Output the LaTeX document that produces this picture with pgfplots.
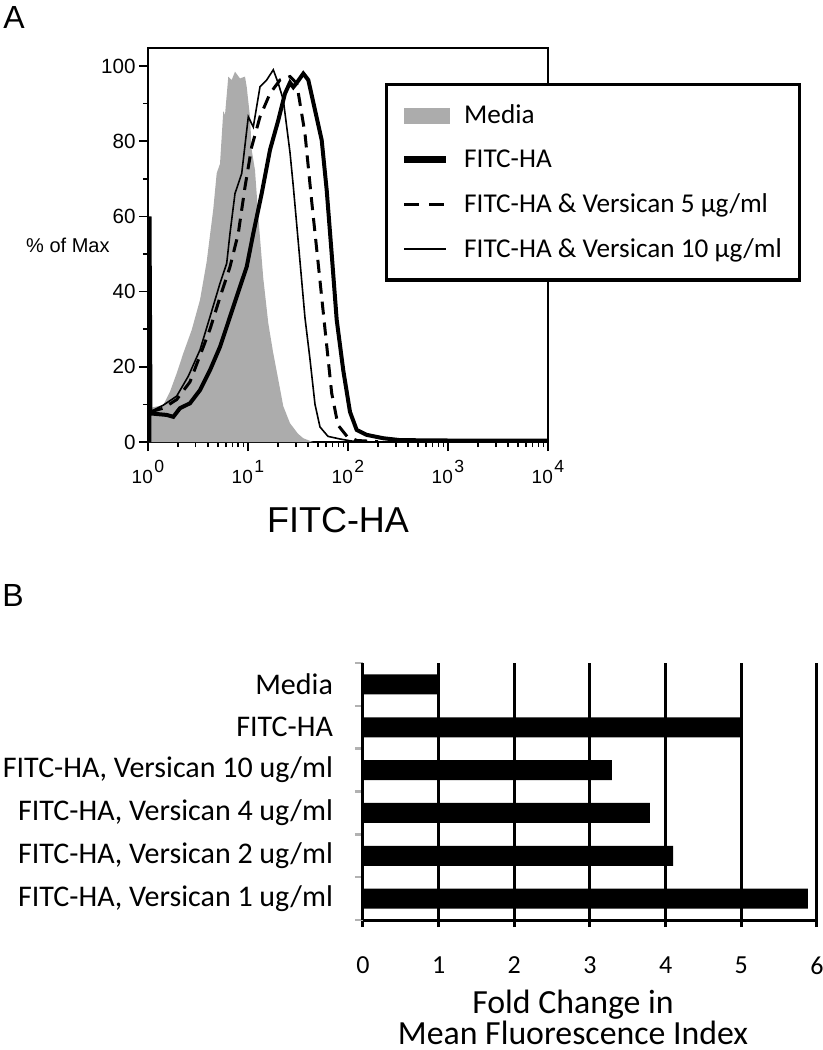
\documentclass[border=0pt]{standalone}
\usepackage{fontspec}
\setmainfont{Liberation Sans}
\newfontfamily\calibri{Carlito}
\usepackage{pgfplots}
\pgfplotsset{compat=1.18}

% decade tick label, superscript sits above the base digits
\newcommand\dec[1]{{\fontsize{9.5}{9.5}\selectfont 10}\kern0.8pt\raisebox{5.6pt}{\fontsize{8.8}{8.8}\selectfont #1}}

\begin{document}
\begin{tikzpicture}
\useasboundingbox (0,0) rectangle (411.5pt,-525pt);
\node[font=\fontsize{16}{16}\selectfont] at (7pt,-8.5pt) {A};
\node[font=\fontsize{16}{16}\selectfont] at (6.5pt,-297.5pt) {B};

% ---- A: histogram, x in decades (10^0 ... 10^4)
\begin{axis}[
  at={(74pt,-221pt)}, anchor=south west,
  scale only axis, width=200pt, height=197pt,
  xmin=0, xmax=4, ymin=0, ymax=104.8,
  axis line style={line width=0.8pt},
  xtick={0,1,2,3,4},
  xticklabels={\dec{0},\dec{1},\dec{2},\dec{3},\dec{4}},
  minor xtick={0.301,0.477,0.602,0.699,0.778,0.845,0.903,0.954,
    1.301,1.477,1.602,1.699,1.778,1.845,1.903,1.954,
    2.301,2.477,2.602,2.699,2.778,2.845,2.903,2.954,
    3.301,3.477,3.602,3.699,3.778,3.845,3.903,3.954},
  ytick={0,20,40,60,80,100},
  minor ytick={10,30,50,70,90},
  tick align=outside, tick pos=left,
  major tick length=4.5pt, minor tick length=2.5pt,
  tick style={black, line width=0.8pt},
  ticklabel style={font=\fontsize{10.3}{10.3}\selectfont},
  /pgf/number format/assume math mode=true,
  yticklabel style={inner xsep=1.5pt},
  xticklabel style={anchor=north, yshift=-1pt},
  ylabel={\% of Max},
  every axis y label/.style={at={(axis description cs:-0.095,0.5)}, anchor=east,
    inner sep=0pt, font=\fontsize{10}{10}\selectfont},
  xlabel={FITC-HA},
  every axis x label/.style={at={(axis description cs:0.475,0)}, anchor=center,
    yshift=-39pt, font=\fontsize{18}{18}\selectfont},
  legend style={at={(axis description cs:0.5925,0.911)}, anchor=north west,
    draw=black, line width=1.7pt, font=\calibri\fontsize{13.6}{13.6}\selectfont,
    inner xsep=7pt, inner ysep=8pt, row sep=7.5pt, cells={anchor=west},
    /tikz/every odd column/.append style={column sep=5pt}},
  legend cell align=left,
]
\addplot[fill=gray!65, draw=none,
  legend image code/.code={\fill[gray!65] (0pt,-4pt) rectangle (23pt,4pt);}]
  coordinates {
  (0.005,9.0) (0.153,9.8) (0.22,13.4) (0.29,18.5) (0.353,23.6) (0.437,29.8) (0.52,37.8)
  (0.587,48) (0.653,62) (0.687,71.5) (0.72,74) (0.753,88) (0.77,87) (0.803,97.2)
  (0.837,96.3) (0.87,98.5) (0.92,96.7) (0.97,97.2) (0.987,94.5) (1.02,86.5)
  (1.037,77.7) (1.07,72.3) (1.103,59.9) (1.153,43.5) (1.203,31.6) (1.25,24)
  (1.30,17) (1.353,9.5) (1.42,5.0) (1.50,2.2) (1.553,1.0) (1.62,0.3) (1.65,0)
  } \closedcycle;
\addlegendentry{Media}

\addplot[black, line width=2pt,
  legend image code/.code={\draw[line width=3.5pt] (0pt,0pt) -- (21pt,0pt);}]
  coordinates {
  (0.015,0) (0.015,60) (0.025,7.6) (0.187,7.2) (0.253,6.7) (0.32,9.0) (0.42,10.3)
  (0.52,13.8) (0.62,19.1) (0.72,25.3) (0.82,33.3) (0.92,41.3) (0.987,46.6)
  (1.053,55.5) (1.137,66.1) (1.22,77.7) (1.303,85.6) (1.37,92.7) (1.42,95.6)
  (1.453,94.4) (1.50,96) (1.553,98.0) (1.603,96.3) (1.67,88.3) (1.737,80.3)
  (1.787,67) (1.837,50) (1.887,32.5) (1.953,19) (2.02,8.0) (2.087,3.2)
  (2.187,1.9) (2.353,1.0) (2.52,0.5) (3,0.4) (4,0.4)
  };
\addlegendentry{FITC-HA}

\addplot[black, line width=1.5pt, dash pattern=on 6.5pt off 4pt,
  legend image code/.code={\draw[line width=1.5pt, dash pattern=on 7.5pt off 5pt] (0pt,0pt) -- (21pt,0pt);}]
  coordinates {
  (0.02,8) (0.153,9) (0.287,11.3) (0.42,16) (0.52,23) (0.62,30) (0.72,38.5)
  (0.82,46.6) (0.903,55.5) (0.97,67.8) (1.037,78.5) (1.12,86.5) (1.22,92.7)
  (1.32,96.3) (1.42,97.2) (1.487,95.4) (1.57,82) (1.637,64) (1.70,48)
  (1.77,30) (1.837,13) (1.90,4.5) (1.99,1.5) (2.09,0.4) (2.3,0.1)
  };
\addlegendentry{FITC-HA \& Versican 5 µg/ml}

\addplot[black, line width=0.8pt,
  legend image code/.code={\draw[line width=0.8pt] (0pt,0pt) -- (21pt,0pt);}]
  coordinates {
  (0.02,8) (0.153,9.8) (0.287,12.2) (0.403,17.5) (0.52,24.5) (0.62,33.3)
  (0.72,42.2) (0.787,47.5) (0.82,55.5) (0.87,66.1) (0.937,71.4) (1.003,86.5)
  (1.053,83.8) (1.12,94.5) (1.187,96.3) (1.253,99) (1.303,95.4) (1.353,91)
  (1.42,77) (1.453,68) (1.49,57) (1.52,48) (1.57,33) (1.62,22) (1.67,10)
  (1.72,4) (1.80,1.5) (1.92,0.8) (2.05,0.2) (2.2,0.1)
  };
\addlegendentry{FITC-HA \& Versican 10 µg/ml}
\end{axis}

% ---- B: fold change bars, Media at the top
\begin{axis}[
  at={(181.5pt,-460pt)}, anchor=south west,
  scale only axis, width=227pt, height=128.5pt,
  xbar, bar width=10pt,
  xmin=0, xmax=6, ymin=-0.5, ymax=5.5,
  axis x line=bottom, axis y line=left,
  axis line style={-, line width=1.5pt},
  xtick={0,...,6},
  xmajorgrids, major grid style={black, line width=1.5pt},
  ytick={0,...,5},
  yticklabels={{FITC-HA, Versican 1 ug/ml},{FITC-HA, Versican 2 ug/ml},
    {FITC-HA, Versican 4 ug/ml},{FITC-HA, Versican 10 ug/ml},FITC-HA,Media},
  minor ytick={-0.5,0.5,...,5.5},
  major y tick style={draw=none},
  minor y tick style={draw=gray!60, line width=1.2pt},
  xtick style={black, line width=1.5pt},
  tick align=outside,
  major tick length=3.5pt, minor tick length=4pt,
  /pgf/number format/assume math mode=true,
  xticklabel style={font=\calibri\fontsize{13}{13}\selectfont, yshift=-11.5pt},
  yticklabel style={font=\calibri\fontsize{15}{15}\selectfont, xshift=-8pt},
  xlabel={Fold Change in\\Mean Fluorescence Index},
  every axis x label/.style={at={(axis description cs:0.4626,0)}, anchor=center,
    yshift=-48.5pt, align=center, font=\calibri\fontsize{16.9}{15.5}\selectfont},
]
\addplot[fill=black, draw=none] coordinates {
  (5.88,0) (4.10,1) (3.79,2) (3.29,3) (5.0,4) (1.0,5)
  };
\end{axis}
\end{tikzpicture}
\end{document}
